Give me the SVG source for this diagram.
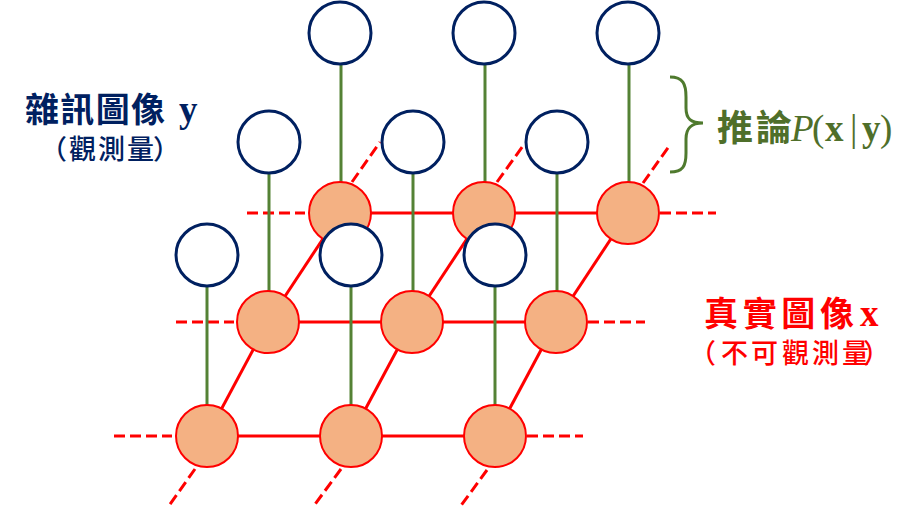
<svg xmlns="http://www.w3.org/2000/svg" width="914" height="510" viewBox="0 0 914 510">
<style>
.r{stroke:#FF0000;stroke-width:3;fill:none}
.d{stroke-dasharray:11 5}
.g{stroke:#548235;stroke-width:3}
.x{fill:#F4B183;stroke:#FF0000;stroke-width:2}
.y{fill:#FFFFFF;stroke:#002060;stroke-width:3}
.cjk{font-family:"Noto Sans CJK TC","Noto Sans CJK SC",sans-serif;font-weight:bold}
.sub{font-family:"Noto Sans CJK TC","Noto Sans CJK SC",sans-serif;font-weight:500}
.sr{font-family:"Liberation Serif","DejaVu Serif",serif}
</style>
<rect width="914" height="510" fill="#FFFFFF"/>
<g id="connectors">
<g class="r">
<line x1="340" y1="213" x2="628" y2="213"/>
<line x1="268" y1="322" x2="556" y2="322"/>
<line x1="207" y1="436" x2="495" y2="436"/>
<line x1="340" y1="213" x2="268" y2="322"/>
<line x1="484" y1="213" x2="412" y2="322"/>
<line x1="628" y1="213" x2="556" y2="322"/>
<line x1="268" y1="322" x2="207" y2="436"/>
<line x1="412" y1="322" x2="351" y2="436"/>
<line x1="556" y1="322" x2="495" y2="436"/>
</g>
<g class="r d">
<line x1="247" y1="213" x2="305" y2="213"/>
<line x1="660" y1="213" x2="716" y2="213"/>
<line x1="176" y1="322" x2="234" y2="322"/>
<line x1="588" y1="322" x2="645" y2="322"/>
<line x1="114" y1="436" x2="172" y2="436"/>
<line x1="527" y1="436" x2="583" y2="436"/>
<line x1="352" y1="182" x2="380" y2="142"/>
<line x1="497" y1="182" x2="525" y2="143"/>
<line x1="643" y1="183" x2="670" y2="145"/>
<line x1="195" y1="469" x2="168" y2="507"/>
<line x1="341" y1="469" x2="313" y2="507"/>
<line x1="487" y1="470" x2="460" y2="507"/>
</g>
<g class="g">
<line x1="341" y1="64" x2="341" y2="183"/>
<line x1="485" y1="64" x2="485" y2="183"/>
<line x1="629" y1="64" x2="629" y2="183"/>
<line x1="269" y1="173" x2="269" y2="292"/>
<line x1="413" y1="173" x2="413" y2="292"/>
<line x1="557" y1="173" x2="557" y2="292"/>
<line x1="207" y1="286" x2="207" y2="406"/>
<line x1="351" y1="286" x2="351" y2="406"/>
<line x1="495" y1="286" x2="495" y2="406"/>
</g>
</g>
<g id="x11"><circle class="x" cx="340" cy="213" r="31"/></g>
<g id="x12"><circle class="x" cx="484" cy="213" r="31"/></g>
<g id="x13"><circle class="x" cx="628" cy="213" r="31"/></g>
<g id="x21"><circle class="x" cx="268" cy="322" r="31"/></g>
<g id="x22"><circle class="x" cx="412" cy="322" r="31"/></g>
<g id="x23"><circle class="x" cx="556" cy="322" r="31"/></g>
<g id="x31"><circle class="x" cx="207" cy="436" r="31"/></g>
<g id="x32"><circle class="x" cx="351" cy="436" r="31"/></g>
<g id="x33"><circle class="x" cx="495" cy="436" r="31"/></g>
<g id="y11"><circle class="y" cx="340" cy="33" r="31"/></g>
<g id="y12"><circle class="y" cx="484" cy="33" r="31"/></g>
<g id="y13"><circle class="y" cx="628" cy="33" r="31"/></g>
<g id="y21"><circle class="y" cx="269" cy="142" r="31"/></g>
<g id="y22"><circle class="y" cx="413" cy="142" r="31"/></g>
<g id="y23"><circle class="y" cx="557" cy="142" r="31"/></g>
<g id="y31"><circle class="y" cx="207" cy="255" r="31"/></g>
<g id="y32"><circle class="y" cx="351" cy="255" r="31"/></g>
<g id="y33"><circle class="y" cx="495" cy="255" r="31"/></g>
<g id="brace">
<path d="M670,77 C683,77 686,84 686,97 L686,108 C686,119 691,123 703,123 C691,123 686,128 686,139 L686,153 C686,166 683,172 670,172" fill="none" stroke="#4F7A2E" stroke-width="3"/>
</g>
<g id="label-y" fill="#002060">
<text x="25" y="122" class="cjk" font-size="34" textLength="140" lengthAdjust="spacing">雜訊圖像</text>
<text x="179" y="122" class="sr" font-size="37" font-weight="bold">y</text>
<text y="159" class="sub" font-size="27" x="40 69 98 127 153">（觀測量）</text>
</g>
<g id="label-infer" fill="#4F6F2A">
<text x="717" y="141" class="cjk" font-size="36" textLength="75" lengthAdjust="spacing">推論</text>
<text y="141" class="sr" font-size="37"><tspan x="791" font-style="italic">P</tspan><tspan x="812">(</tspan><tspan x="825" font-weight="bold">x</tspan><tspan x="850">|</tspan><tspan x="862" font-weight="bold">y</tspan><tspan x="880">)</tspan></text>
</g>
<g id="label-x" fill="#FF0000">
<text x="704" y="326" class="cjk" font-size="34" textLength="150" lengthAdjust="spacing">真實圖像</text>
<text x="860" y="326" class="sr" font-size="37" font-weight="bold">x</text>
<text y="363" class="sub" font-size="27" x="689 721 751 782 812 842 863">（不可觀測量）</text>
</g>
</svg>
